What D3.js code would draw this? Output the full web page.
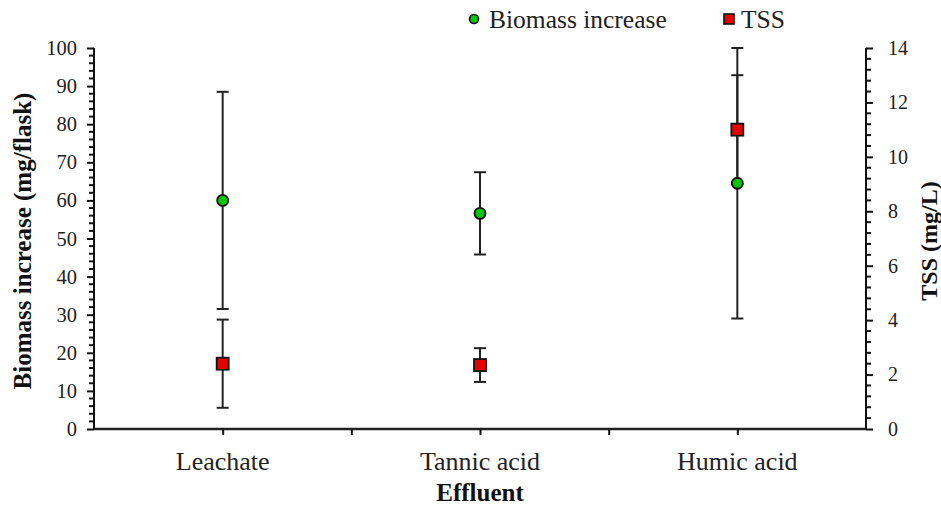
<!DOCTYPE html>
<html>
<head>
<meta charset="utf-8">
<script src="https://cdn.jsdelivr.net/npm/d3@7/dist/d3.min.js"></script>
<style>
  html, body { margin: 0; padding: 0; background: #fff; }
  svg { display: block; }
  svg text { font-family: "Liberation Serif", "Times New Roman", serif !important; }
</style>
</head>
<body>
<svg id="chart" width="941" height="506"></svg>
<script>
// ---- data ----
const categories = ["Leachate", "Tannic acid", "Humic acid"];
const categoryPos = [1, 3, 5];
const biomassMean = [60, 56.6, 64.5];
const biomassErr = [28.5, 10.8, 35.5];
const tssMean = [2.4, 2.35, 11.0];
const tssErr = [1.62, 0.62, 2.0];
const leftTicks = [0, 10, 20, 30, 40, 50, 60, 70, 80, 90, 100];
const rightTicks = [0, 2, 4, 6, 8, 10, 12, 14];
const seriesNames = ["Biomass increase", "TSS"];

// ---- layout ----
const svg = d3.select("#chart");
const x = d3.scaleLinear().domain([0, 6]).range([94, 866]);
const yL = d3.scaleLinear().domain([0, 100]).range([429, 48]);
const yR = d3.scaleLinear().domain([0, 14]).range([429, 48]);

const green = "#00c800";
const red = "#e60000";

// Left axis
const leftMinor = d3.range(0, 101, 2).filter(v => v % 10 !== 0);
const gL = svg.append("g").attr("transform", `translate(${x(0)},0)`);
gL.call(d3.axisLeft(yL).tickValues(leftTicks).tickSize(7).tickPadding(10).tickFormat(d3.format("d")));
gL.selectAll(".tick line").attr("stroke", "#111").attr("stroke-width", 2);
gL.select(".domain").attr("stroke", "#111").attr("stroke-width", 2).attr("d", `M0,${yL(100)}V${yL(0)}`);
gL.selectAll(".tick text").attr("font-size", 20.5).attr("fill", "#222");
gL.selectAll(".minor").data(leftMinor).enter().append("line")
  .attr("x1", -5).attr("x2", 0).attr("y1", d => yL(d)).attr("y2", d => yL(d))
  .attr("stroke", "#111").attr("stroke-width", 2);

// Right axis
const rightMinor = d3.range(0, 70.5, 2).map(v => v / 5).filter(v => Math.abs(v / 2 - Math.round(v / 2)) > 1e-6);
const gR = svg.append("g").attr("transform", `translate(${x(6)},0)`);
gR.call(d3.axisRight(yR).tickValues(rightTicks).tickSize(7).tickPadding(15).tickFormat(d3.format("d")));
gR.selectAll(".tick line").attr("stroke", "#111").attr("stroke-width", 2);
gR.select(".domain").attr("stroke", "#111").attr("stroke-width", 2).attr("d", `M0,${yR(14)}V${yR(0)}`);
gR.selectAll(".tick text").attr("font-size", 20).attr("fill", "#222");
gR.selectAll(".minor").data(rightMinor).enter().append("line")
  .attr("x1", 0).attr("x2", 5).attr("y1", d => yR(d)).attr("y2", d => yR(d))
  .attr("stroke", "#111").attr("stroke-width", 2);

// Bottom axis
const gB = svg.append("g").attr("transform", `translate(0,${yL(0)})`);
gB.call(d3.axisBottom(x).tickValues([1, 2, 3, 4, 5]).tickSize(6).tickFormat(""));
gB.selectAll(".tick line").attr("stroke", "#111").attr("stroke-width", 2);
gB.select(".domain").attr("stroke", "#222").attr("stroke-width", 2.5).attr("d", `M${x(0)},0H${x(6)}`);

// Category labels
svg.selectAll(".cat").data(categories).enter().append("text")
  .attr("x", (d, i) => x(categoryPos[i])).attr("y", 470)
  .attr("text-anchor", "middle").attr("font-size", 26).attr("fill", "#222")
  .text(d => d);

// Axis titles
svg.append("text").attr("x", x(3)).attr("y", 501).attr("text-anchor", "middle")
  .attr("font-size", 25).attr("font-weight", "bold").attr("fill", "#111").text("Effluent");
svg.append("text").attr("transform", `translate(31,${241}) rotate(-90)`).attr("text-anchor", "middle")
  .attr("font-size", 25).attr("font-weight", "bold").attr("fill", "#111").text("Biomass increase  (mg/flask)");
svg.append("text").attr("transform", `translate(937,${241}) rotate(-90)`).attr("text-anchor", "middle")
  .attr("font-size", 24).attr("font-weight", "bold").attr("fill", "#111").text("TSS (mg/L)");

// Error bars
function errBars(means, errs, yScale, cls) {
  const g = svg.append("g").attr("class", cls);
  categories.forEach((c, i) => {
    const cx = x(categoryPos[i]);
    const top = yScale(means[i] + errs[i]);
    const bot = yScale(means[i] - errs[i]);
    g.append("line").attr("x1", cx).attr("x2", cx).attr("y1", top).attr("y2", bot)
      .attr("stroke", "#222").attr("stroke-width", 2);
    [top, bot].forEach(yy => g.append("line").attr("x1", cx - 6).attr("x2", cx + 6)
      .attr("y1", yy).attr("y2", yy).attr("stroke", "#222").attr("stroke-width", 2));
  });
}
errBars(biomassMean, biomassErr, yL, "err-bio");
errBars(tssMean, tssErr, yR, "err-tss");

// Markers
svg.selectAll(".bio").data(biomassMean).enter().append("circle")
  .attr("cx", (d, i) => x(categoryPos[i])).attr("cy", d => yL(d)).attr("r", 5.5)
  .attr("fill", green).attr("stroke", "#111").attr("stroke-width", 1.8);
svg.selectAll(".tss").data(tssMean).enter().append("rect")
  .attr("x", (d, i) => x(categoryPos[i]) - 6).attr("y", d => yR(d) - 6)
  .attr("width", 12).attr("height", 12)
  .attr("fill", red).attr("stroke", "#111").attr("stroke-width", 1.8);

// Legend
const leg = svg.append("g");
leg.append("circle").attr("cx", 474).attr("cy", 19).attr("r", 4.5)
  .attr("fill", green).attr("stroke", "#111").attr("stroke-width", 1.6);
leg.append("text").attr("x", 489).attr("y", 28).attr("font-size", 25.5).attr("fill", "#222").text(seriesNames[0]);
leg.append("rect").attr("x", 724).attr("y", 14).attr("width", 10).attr("height", 10)
  .attr("fill", red).attr("stroke", "#111").attr("stroke-width", 1.6);
leg.append("text").attr("x", 741).attr("y", 28).attr("font-size", 25.5).attr("fill", "#222").text(seriesNames[1]);
</script>
</body>
</html>
